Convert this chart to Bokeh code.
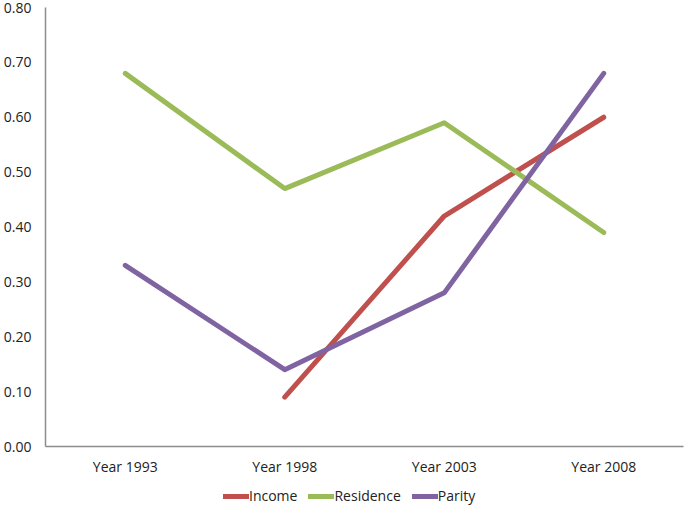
from bokeh.plotting import figure
from bokeh.layouts import column
from bokeh.models import Range1d, FixedTicker, NumeralTickFormatter, Legend, LegendItem
from bokeh.embed import file_html
from bokeh.resources import INLINE

years = ["Year 1993", "Year 1998", "Year 2003", "Year 2008"]
income = [float("nan"), 0.09, 0.42, 0.60]
residence = [0.68, 0.47, 0.59, 0.39]
parity = [0.33, 0.14, 0.28, 0.68]
y_ticks = [0.0, 0.1, 0.2, 0.3, 0.4, 0.5, 0.6, 0.7, 0.8]

series = [("Income", income, "#C0504D"),
          ("Residence", residence, "#9BBB59"),
          ("Parity", parity, "#8064A2")]

FONT = "Open Sans"
TXT = "#222222"

p = figure(width=685, height=481, output_backend="svg", toolbar_location=None,
           x_range=years, y_range=Range1d(0, 0.8),
           min_border_left=42, min_border_right=2, min_border_top=7, min_border_bottom=35)
p.x_range.range_padding = 0
p.outline_line_color = None
p.grid.visible = False

for name, vals, col in series:
    p.line(years, vals, line_color=col, line_width=5, line_cap="round", line_join="round")

xa = p.xaxis[0]
xa.major_tick_out = 0
xa.major_tick_in = 0
xa.minor_tick_out = 0
xa.minor_tick_in = 0
xa.major_label_standoff = 10
xa.axis_line_color = "#8c8c8c"
xa.axis_line_width = 1.5
xa.major_label_text_font = FONT
xa.major_label_text_font_size = "14px"
xa.major_label_text_color = TXT

ya = p.yaxis[0]
ya.ticker = FixedTicker(ticks=y_ticks)
ya.formatter = NumeralTickFormatter(format="0.00")
ya.major_tick_out = 0
ya.major_tick_in = 0
ya.minor_tick_out = 0
ya.minor_tick_in = 0
ya.major_label_standoff = 14
ya.axis_line_color = "#8c8c8c"
ya.axis_line_width = 1.5
ya.major_label_text_font = FONT
ya.major_label_text_font_size = "14px"
ya.major_label_text_color = TXT

# legend strip below the chart (key renderers hold no visible data)
lg = figure(width=685, height=24, output_backend="svg", toolbar_location=None,
            x_range=Range1d(0, 1), y_range=Range1d(0, 1),
            min_border=0)
lg.axis.visible = False
lg.grid.visible = False
lg.outline_line_color = None
items = []
for name, vals, col in series:
    r = lg.line([float("nan")], [float("nan")], line_color=col, line_width=5, line_cap="round")
    items.append(LegendItem(label=name, renderers=[r]))
legend = Legend(items=items, orientation="horizontal", location=(178, 0),
                glyph_width=26, glyph_height=16, label_standoff=0, spacing=11,
                padding=0, margin=0, border_line_color=None, background_fill_alpha=0,
                label_text_font=FONT, label_text_font_size="14px", label_text_color=TXT)
lg.add_layout(legend)

layout = column(p, lg, spacing=0)
open("out.html", "w").write(file_html(layout, INLINE))
